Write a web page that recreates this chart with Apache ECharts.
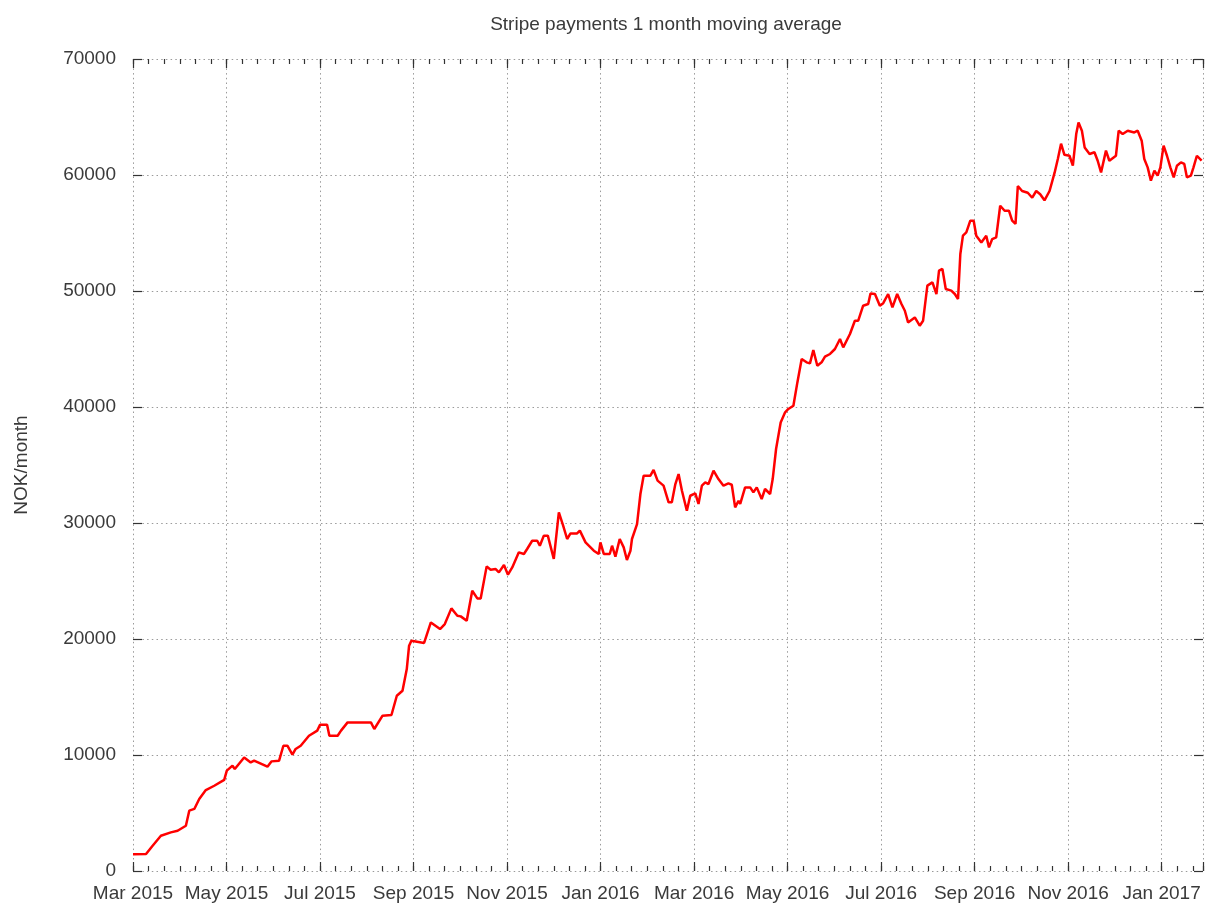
<!DOCTYPE html>
<html>
<head>
<meta charset="UTF-8">
<title>Stripe payments</title>
<style>
html,body{margin:0;padding:0;background:#fff;}
#picContainer{width:1206px;height:903px;}
</style>
</head>
<body>
<div id="picContainer"></div>
<script src="https://cdn.jsdelivr.net/npm/echarts@6/dist/echarts.min.js"></script>
<script>
// x = days from start of axis (Mar 2015), ticks every 61 days
var tickLabels = ['Mar 2015','May 2015','Jul 2015','Sep 2015','Nov 2015','Jan 2016',
                  'Mar 2016','May 2016','Jul 2016','Sep 2016','Nov 2016','Jan 2017'];
var days = [0,8.5,12.8,18.2,24.7,29.1,34.5,36.7,40.0,43.2,47.5,53.0,59.5,61.2,64.9,66.4,72.5,76.8,79.0,87.7,
            90.3,95.3,98.1,100.7,104.0,106.1,109.4,114.8,120.2,122.0,126.6,128.1,133.5,135.7,140.0,155.2,157.4,162.8,168.6,172.1,
            175.8,178.6,180.1,181.6,189.9,194.3,200.3,203.4,207.7,211.6,213.8,217.7,221.3,224.6,226.8,230.7,233.3,236.6,238.7,242.0,
            244.6,247.4,251.7,255.0,257.1,260.4,263.7,265.4,268.0,270.6,274.5,277.8,280.6,283.2,285.4,289.7,291.5,295.2,300.6,303.8,
            304.9,307.1,311.0,312.5,314.7,317.5,320.1,322.2,324.5,325.5,328.8,331.0,333.1,337.5,339.6,342.2,346.1,349.4,351.5,353.8,
            355.9,358.1,361.3,363.5,366.8,368.9,371.1,373.3,375.4,378.7,381.9,385.2,388.4,390.6,392.8,395.0,396.1,399.3,402.6,404.7,
            406.9,410.1,412.3,415.6,417.3,419.5,422.5,425.4,427.5,430.8,433.4,436.2,439.4,441.6,443.8,446.4,449.2,451.4,454.7,457.9,
            461.2,463.3,467.7,470.9,473.1,476.3,479.6,481.1,484.0,487.2,489.4,492.6,495.4,498.5,501.3,503.5,505.6,510.0,513.2,515.4,
            518.2,521.5,524.1,525.8,528.0,530.2,533.8,536.1,538.2,539.7,541.4,543.6,546.2,548.4,550.1,553.4,556.6,558.4,560.5,563.1,
            565.7,568.6,571.4,573.5,575.7,577.2,580.0,583.7,586.6,589.2,591.8,594.6,597.9,601.2,603.3,605.4,607.6,610.9,613.1,615.3,
            616.8,619.0,620.8,624.0,627.2,629.3,631.5,634.7,636.9,641.2,643.0,645.6,648.9,653.2,655.4,658.0,659.7,661.9,664.0,666.3,
            668.4,670.2,672.3,674.5,676.7,678.9,681.0,683.6,685.8,687.5,690.1,691.8,694.0,697.1];
var nok = [1450,1460,2180,3040,3330,3470,3900,5200,5350,6210,6980,7350,7850,8650,9080,8790,9790,9360,9510,8990,
           9450,9510,10800,10800,10030,10520,10800,11660,12100,12610,12610,11660,11660,12100,12810,12810,12240,13390,13450,15110,
           15540,17410,19420,19850,19660,21430,20860,21290,22640,22010,21950,21580,24160,23500,23500,26260,25970,26030,25740,26380,
           25540,26170,27470,27330,27760,28470,28470,28040,28910,28910,26900,30910,29770,28620,29100,29100,29340,28330,27610,27330,
           28330,27330,27330,28040,27100,28620,27900,26810,27610,28620,29910,32500,34080,34080,34570,33650,33220,31780,31780,33360,
           34220,32780,31060,32350,32550,31640,33220,33500,33360,34510,33790,33220,33410,33300,31350,31920,31640,33070,33070,32640,
           33070,32070,32930,32500,33790,36380,38670,39540,39830,40110,42120,44140,43850,43760,44910,43560,43850,44340,44570,45000,
           45860,45140,46290,47440,47440,48730,48880,49790,49740,48730,48950,49740,48590,49740,48880,48300,47290,47720,47010,47440,
           50460,50740,49740,51750,51900,50170,50030,49740,49310,53190,54770,55050,56060,56060,54770,54190,54770,53760,54480,54630,
           57350,56920,56920,56060,55780,59050,58620,58470,58040,58620,58340,57820,58620,60200,61380,62700,61740,61660,60800,63530,
           64530,63820,62380,61810,61960,61230,60220,62100,61230,61660,63820,63530,63820,63670,63820,62960,61380,60660,59510,60370,
           59940,60660,62530,61660,60660,59800,60800,61090,60950,59800,59940,60660,61660,61230];

var xMax = 698;
var textColor = '#3a3a3a';
var tickColor = '#333';
var gridLine = {show: true, lineStyle: {color: '#9a9a9a', width: 1, type: [1.5, 3.2]}};
var noLine = {show: false, onZero: false};

var seriesData = [];
for (var i = 0; i < days.length; i++) {
    seriesData.push([days[i], nok[i]]);
}

function xLabel(v) {
    var k = Math.round(v / 61);
    if (Math.abs(v - k * 61) < 0.01 && k < tickLabels.length) return tickLabels[k];
    return '';
}

function tick(len) {
    return {inside: true, length: len, lineStyle: {color: tickColor, width: 1.2}};
}

var myChart = echarts.init(document.getElementById('picContainer'));
var option = {
    animation: false,
    title: {
        text: 'Stripe payments 1 month moving average',
        left: 661,
        top: 10,
        textAlign: 'center',
        textStyle: {fontFamily: 'Liberation Sans', fontSize: 19, fontWeight: 'normal', color: textColor}
    },
    grid: {left: 133, right: 1, top: 59, bottom: 32},
    xAxis: [{
        type: 'value', position: 'bottom', min: 0, max: xMax, interval: 61,
        axisLine: noLine, axisTick: tick(9),
        axisLabel: {formatter: xLabel, margin: 13, fontFamily: 'Liberation Sans', fontSize: 19, color: textColor},
        splitLine: gridLine
    }, {
        type: 'value', position: 'top', min: 0, max: xMax, interval: 61,
        axisLine: noLine, axisTick: tick(9),
        axisLabel: {show: false}, splitLine: {show: false}
    }, {
        type: 'value', position: 'bottom', min: 0, max: xMax, interval: 61 / 6,
        axisLine: noLine, axisTick: tick(5),
        axisLabel: {show: false}, splitLine: {show: false}
    }, {
        type: 'value', position: 'top', min: 0, max: xMax, interval: 61 / 6,
        axisLine: noLine, axisTick: tick(5),
        axisLabel: {show: false}, splitLine: {show: false}
    }],
    yAxis: [{
        type: 'value', position: 'left', min: 0, max: 70000, interval: 10000,
        name: 'NOK/month', nameLocation: 'middle', nameRotate: 90, nameGap: 102,
        nameTextStyle: {fontFamily: 'Liberation Sans', fontSize: 19, color: textColor},
        axisLine: noLine, axisTick: tick(9),
        axisLabel: {margin: 17, fontFamily: 'Liberation Sans', fontSize: 19, color: textColor,
                    formatter: function (v) { return String(v); }},
        splitLine: gridLine
    }, {
        type: 'value', position: 'right', min: 0, max: 70000, interval: 10000,
        axisLine: noLine, axisTick: tick(9),
        axisLabel: {show: false}, splitLine: {show: false}
    }],
    series: [{
        name: 'NOK/month',
        type: 'line',
        xAxisIndex: 0,
        yAxisIndex: 0,
        showSymbol: false,
        lineStyle: {color: '#ff0000', width: 2.5},
        data: seriesData
    }]
};
myChart.setOption(option);
</script>
</body>
</html>
